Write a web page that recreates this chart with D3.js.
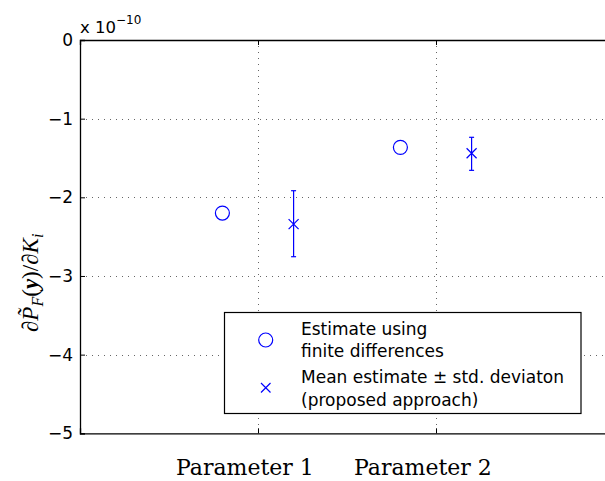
<!DOCTYPE html>
<html><head><meta charset="utf-8">
<script src="https://cdn.jsdelivr.net/npm/d3@7"></script>
<style>body{margin:0;background:#fff}svg{display:block}</style>
</head><body>
<svg id="c" width="605" height="481"></svg>
<script>
// data
const yTicks = [0, -1, -2, -3, -4, -5];
const xTicks = [1, 2];
const xTickLabels = ["Parameter 1", "Parameter 2"];
const fdX = [0.8, 1.8];
const fdY = [-2.2, -1.365];
const meanX = [1.2, 2.2];
const meanY = [-2.34, -1.44];
const errLow = [-2.755, -1.657];
const errHigh = [-1.916, -1.237];
const legendLabels = [["Estimate using", "finite differences"], ["Mean estimate \u00b1 std. deviaton", "(proposed approach)"]];

const svg = d3.select("#c");
const L = 80, T = 40, B = 433.3;
const x = d3.scaleLinear().domain([0, 3]).range([L, L + 3 * 178]);
const y = d3.scaleLinear().domain([-5, 0]).range([B, T]);
const blue = "#0000ff";
const SANS = "DejaVu Sans, Verdana, sans-serif";

// grid
const g = svg.append("g");
g.selectAll(".gy").data(yTicks.filter(d => d > -5 && d < 0)).join("line")
  .attr("x1", L).attr("x2", 605).attr("y1", d => Math.round(y(d)) + 0.5).attr("y2", d => Math.round(y(d)) + 0.5)
  .attr("stroke", "#666").attr("stroke-width", 1).attr("stroke-dasharray", "1,5");
g.selectAll(".gx").data(xTicks).join("line")
  .attr("x1", d => Math.round(x(d)) + 0.5).attr("x2", d => Math.round(x(d)) + 0.5).attr("y1", T).attr("y2", B)
  .attr("stroke", "#666").attr("stroke-width", 1).attr("stroke-dasharray", "1,5");

// axes
const yAxis = d3.axisLeft(y).tickValues(yTicks).tickSize(-5).tickPadding(7)
  .tickFormat(d => d === 0 ? "0" : "\u2212" + Math.abs(d));
const ya = svg.append("g").attr("transform", `translate(${L},0)`).call(yAxis);
ya.select(".domain").attr("stroke", "#000").attr("stroke-width", 1.3);
ya.selectAll("text").attr("font-family", SANS).attr("font-size", 17).attr("fill", "#000");

const xAxis = d3.axisBottom(x).tickValues(xTicks).tickSize(-5).tickFormat("");
const xa = svg.append("g").attr("transform", `translate(0,${B})`).call(xAxis);
xa.select(".domain").attr("stroke", "#000").attr("stroke-width", 1.3);
const xt = svg.append("g").attr("transform", `translate(0,${T})`).call(d3.axisTop(x).tickValues(xTicks).tickSize(-5).tickFormat(""));
xt.select(".domain").attr("stroke", "#000").attr("stroke-width", 1.3);

// exponent label
const ex = svg.append("text").attr("x", L).attr("y", 33)
  .attr("font-family", SANS).attr("font-size", 16.5).attr("fill", "#000");
ex.append("tspan").text("x 10");
ex.append("tspan").attr("dy", -9).attr("font-size", 12).text("\u221210");

// x labels
const xl = svg.append("g").attr("font-family", "DejaVu Serif, Liberation Serif, serif").attr("font-size", 22)
  .attr("fill", "#000");
xl.selectAll("text").data(xTicks).join("text")
  .attr("x", d => x(d) - 82).attr("y", 475).text((d, i) => xTickLabels[i]);

// y label
const yl = svg.append("text").attr("transform", "translate(38,332) rotate(-90)").attr("text-anchor", "start")
  .attr("font-family", "Liberation Serif, DejaVu Serif, serif").attr("font-size", 23).attr("fill", "#000");
yl.append("tspan").attr("font-style", "italic").text("\u2202");
yl.append("tspan").attr("font-style", "italic").text("P\u0303");
yl.append("tspan").attr("font-style", "italic").attr("font-size", 16).attr("dy", 5).text("F");
yl.append("tspan").attr("dy", -5).text("(");
yl.append("tspan").attr("font-style", "italic").attr("font-weight", "bold").text("y");
yl.append("tspan").text(")/");
yl.append("tspan").attr("font-style", "italic").text("\u2202K");
yl.append("tspan").attr("font-style", "italic").attr("font-size", 16).attr("dy", 5).text("i");

// circles
svg.selectAll(".fd").data(fdX).join("circle")
  .attr("cx", d => x(d)).attr("cy", (d, i) => y(fdY[i])).attr("r", 7)
  .attr("fill", "none").attr("stroke", blue).attr("stroke-width", 1.2);

// error bars
const eb = svg.append("g").attr("stroke", blue).attr("stroke-width", 1.2);
meanX.forEach((mx, i) => {
  const cx = x(mx);
  eb.append("line").attr("x1", cx).attr("x2", cx).attr("y1", y(errLow[i])).attr("y2", y(errHigh[i]));
  eb.append("line").attr("x1", cx - 2.5).attr("x2", cx + 2.5).attr("y1", y(errLow[i])).attr("y2", y(errLow[i]));
  eb.append("line").attr("x1", cx - 2.5).attr("x2", cx + 2.5).attr("y1", y(errHigh[i])).attr("y2", y(errHigh[i]));
  const cy = y(meanY[i]), s = 5;
  eb.append("path").attr("d", `M${cx - s},${cy - s}L${cx + s},${cy + s}M${cx - s},${cy + s}L${cx + s},${cy - s}`);
});

// legend
const lg = svg.append("g");
lg.append("rect").attr("x", 224.5).attr("y", 312.5).attr("width", 356.5).attr("height", 101)
  .attr("fill", "#fff").attr("stroke", "#000").attr("stroke-width", 1.2);
lg.append("circle").attr("cx", 265.7).attr("cy", 340).attr("r", 7).attr("fill", "none").attr("stroke", blue).attr("stroke-width", 1.2);
lg.append("path").attr("d", "M261,383L270.5,392.5M261,392.5L270.5,383").attr("stroke", blue).attr("stroke-width", 1.2);
const lt = lg.append("g").attr("font-family", SANS).attr("font-size", 17).attr("fill", "#000");
const ys = [[335, 357], [383, 406]];
legendLabels.forEach((ls, i) => ls.forEach((t, j) => lt.append("text").attr("x", 301).attr("y", ys[i][j]).text(t)));
</script>
</body></html>
